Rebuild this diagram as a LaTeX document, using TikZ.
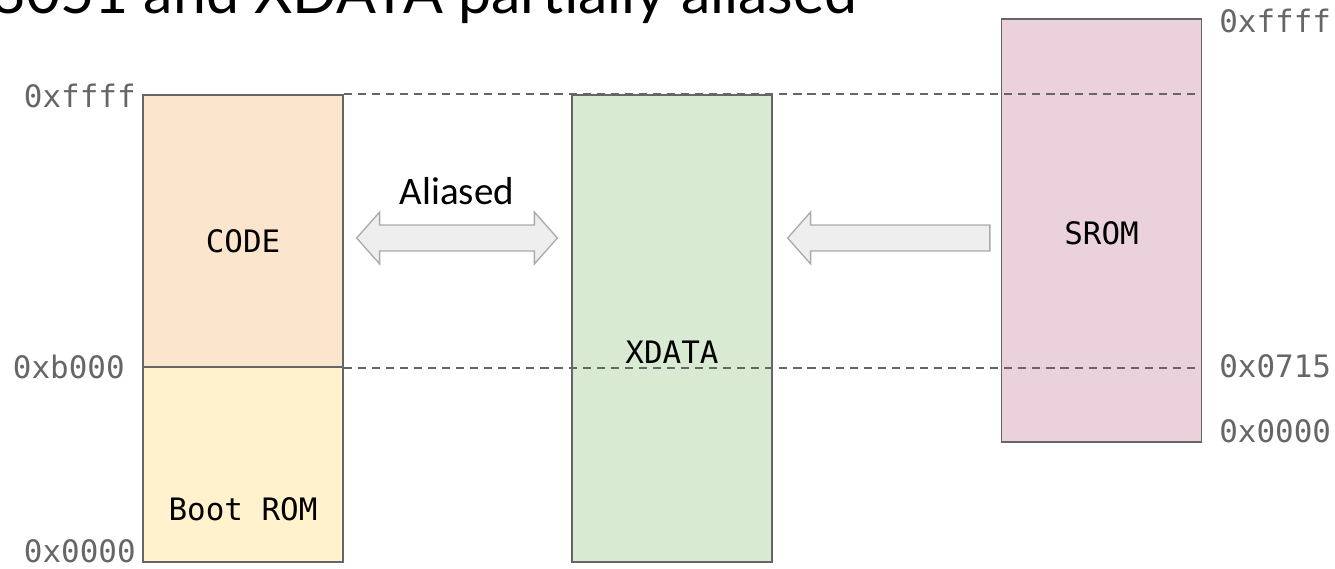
\documentclass[tikz,border=0pt]{standalone}
\usepackage{fontspec}
\setmainfont{Lato}
\newfontfamily\monofont{DejaVu Sans Mono}
\newfontfamily\aliasfont{Carlito}
\usepackage{xcolor}
\usepackage{tikz}
\usetikzlibrary{calc}
\definecolor{codefill}{RGB}{252, 229, 205}
\definecolor{bootfill}{RGB}{255, 242, 204}
\definecolor{xdatafill}{RGB}{217, 234, 211}
\definecolor{sromfill}{RGB}{234, 209, 220}
\definecolor{boxline}{RGB}{102, 102, 102}
\definecolor{addrgray}{RGB}{102, 102, 102}
\definecolor{arrowfill}{RGB}{238, 238, 238}
\definecolor{arrowline}{RGB}{170, 170, 170}
\tikzset{
  membox/.style={
    rectangle, draw=boxline, line width=0.75pt,
    minimum width=4cm, inner sep=0pt
  },
  memtext/.style={
    font=\monofont\fontsize{17.6}{20}\selectfont, anchor=base, inner sep=0pt
  },
  addrleft/.style={memtext, text=addrgray, anchor=base east},
  addrright/.style={memtext, text=addrgray, anchor=base west},
  boundline/.style={
    draw=boxline, line width=1pt, dash pattern=on 4.6pt off 3.4pt
  },
  blockarrow/.style={
    draw=arrowline, fill=arrowfill, line width=0.75pt, line join=miter
  }
}
\begin{document}
\begin{tikzpicture}[x=0.02cm, y=-0.02cm]
  \useasboundingbox (0,0) rectangle (1335,568);

  % Title (cut off at the top)
  \node[anchor=base east, inner sep=0pt, font=\fontsize{33.6}{38}\selectfont] (title) at (858,13) {8051 and XDATA partially aliased};

  % Regions
  \node[membox, fill=codefill, minimum height=5.44cm] (code) at (243,231) {};
  \node[membox, fill=bootfill, minimum height=3.9cm] (boot) at (243,464.5) {};
  \node[membox, fill=xdatafill, minimum height=9.34cm] (xdata) at (672,328.5) {};
  \node[membox, fill=sromfill, minimum height=8.46cm] (srom) at (1101.5,230.5) {};

  % Region names
  \node[memtext] (codename) at (243,252) {CODE};
  \node[memtext] (bootname) at (243,520) {Boot ROM};
  \node[memtext] (xdataname) at (672,363) {XDATA};
  \node[memtext] (sromname) at (1101.5,244) {SROM};

  % Address marks
  \node[addrleft] (codetop) at (136,107) {0xffff};
  \node[addrleft] (codebase) at (125,378) {0xb000};
  \node[addrleft] (bootbase) at (136,562) {0x0000};
  \node[addrright] (sromtop) at (1219,32) {0xffff};
  \node[addrright] (sromsplit) at (1219,377) {0x0715};
  \node[addrright] (srombase) at (1219,442) {0x0000};

  % Boundaries carried across
  \draw[boundline] (code.north east) -- (code.north east -| srom.east);
  \draw[boundline] (code.south east) -- (code.south east -| srom.east);

  % Aliased double arrow
  \coordinate (aliasL) at ($(code.east)+(13,7)$);
  \coordinate (aliasR) at ($(xdata.west)+(-14,-90.5)$);
  \draw[blockarrow] (aliasL) -- ++(23,-26) -- ++(0,13) -- ($(aliasR)+(-23,-13)$) -- ++(0,-13) -- (aliasR)
    -- ++(-23,26) -- ++(0,-13) -- ($(aliasL)+(23,13)$) -- ++(0,13) -- cycle;
  \node[anchor=base, inner sep=0pt, font=\aliasfont\fontsize{22.2}{24}\selectfont] (aliaslabel) at (457,204) {Aliased};

  % SROM copied into XDATA
  \coordinate (sromtip) at ($(xdata.east)+(15,-90.5)$);
  \coordinate (sromtail) at ($(srom.west)+(-11,7.5)$);
  \draw[blockarrow] (sromtip) -- ++(23,-26) -- ++(0,13) -- ($(sromtail)+(0,-13)$) -- ++(0,26)
    -- ($(sromtip)+(23,13)$) -- ++(0,13) -- cycle;
\end{tikzpicture}
\end{document}
